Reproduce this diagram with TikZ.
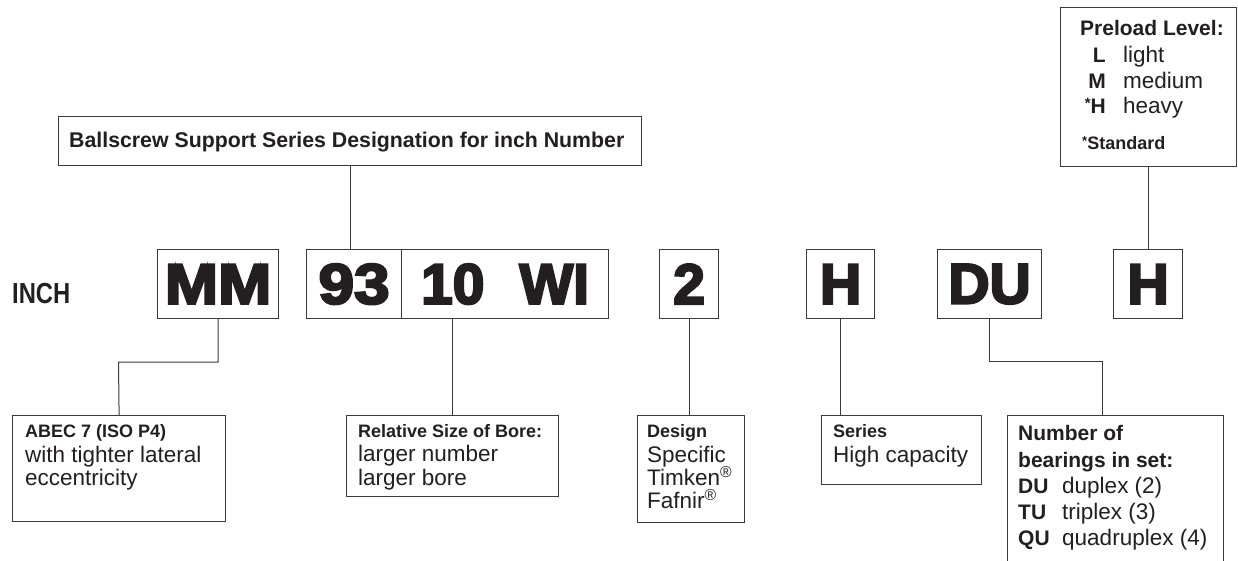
\documentclass[tikz,border=0pt]{standalone}
\usepackage{fontspec}
\setmainfont{Liberation Sans}
\newfontfamily\condfont[FakeStretch=0.82]{Liberation Sans}
\newfontfamily\codefont[FakeBold=4]{Liberation Sans Bold}
\definecolor{ink}{HTML}{231F20}
\definecolor{linegray}{HTML}{3A3A3A}
\newcommand{\fs}[1]{\fontsize{#1}{#1}\selectfont}
\newcommand{\smast}{\raisebox{5pt}{\fs{15}*}}
\newcommand{\tinyast}{\raisebox{4pt}{\fs{13}*}}
\begin{document}
\begin{tikzpicture}[x=1pt,y=-1pt,
  box/.style={draw=linegray, line width=1.2pt, rectangle, inner sep=0pt, anchor=north west},
  codebox/.style={box, font=\codefont\fs{57}, text=ink},
  conn/.style={draw=linegray, line width=1pt},
  txt/.style={anchor=base west, inner sep=0pt, text=ink},
  hd/.style={txt, font=\bfseries\fs{18}},
  hdl/.style={txt, font=\bfseries\fs{21}},
  bd/.style={txt, font=\fs{22.5}},
]
\useasboundingbox (0,0) rectangle (1238,560);
\clip (0,0) rectangle (1238,560);
\fill[white] (0,0) rectangle (1238,560);

% top box
\node[box, minimum width=583pt, minimum height=49pt] (top) at (58,116) {};
\node[txt, font=\bfseries\fs{21.3}] (toptxt) at (69,147) {Ballscrew Support Series Designation for inch Number};

% preload box
\node[box, minimum width=176pt, minimum height=159pt] (pre) at (1060,7) {};
\node[hdl] (pre1) at (1080,35) {Preload Level:};
\node[hdl, anchor=base east] (preL) at (1106,62) {L};
\node[bd] (preLt) at (1123,62) {light};
\node[hdl, anchor=base east] (preM) at (1106,88) {M};
\node[bd] (preMt) at (1123,88) {medium};
\node[hdl, anchor=base east] (preH) at (1106,113) {\smast H};
\node[bd] (preHt) at (1123,113) {heavy};
\node[hd] (preS) at (1082,149) {\tinyast Standard};

% INCH
\node[txt, font=\condfont\bfseries\fs{29}] (inch) at (12,303) {INCH};

% code boxes
\node[codebox, minimum width=121pt, minimum height=69pt] (mm) at (157,249) {\scalebox{1.12}[1]{MM}};
\node[codebox, minimum width=95pt, minimum height=69pt] (c93) at (306,249) {\scalebox{1.12}[1]{93}};
\node[codebox, minimum width=207pt, minimum height=69pt] (c10) at (401,249) {10\hspace{35pt}WI};
\node[codebox, minimum width=59pt, minimum height=69pt] (c2) at (659,249) {2};
\node[codebox, minimum width=68pt, minimum height=69pt] (ch) at (806,249) {H};
\node[codebox, minimum width=104pt, minimum height=69pt] (cdu) at (937,249) {DU};
\node[codebox, minimum width=69pt, minimum height=69pt] (ch2) at (1113,249) {H};

% bottom boxes
\node[box, minimum width=213pt, minimum height=106pt] (abec) at (12,415) {};
\node[hd] (abec1) at (25,437) {ABEC 7 (ISO P4)};
\node[bd] (abec2) at (25,462) {with tighter lateral};
\node[bd] (abec3) at (25,485) {eccentricity};

\node[box, minimum width=212pt, minimum height=81pt] (rel) at (346,415) {};
\node[hd] (rel1) at (358,437) {Relative Size of Bore:};
\node[bd] (rel2) at (358,461) {larger number};
\node[bd] (rel3) at (358,485) {larger bore};

\node[box, minimum width=107pt, minimum height=107pt] (des) at (637,415) {};
\node[hd] (des1) at (647,437) {Design};
\node[bd] (des2) at (647,462) {Specific};
\node[bd] (des3) at (647,485) {Timken\textsuperscript{®}};
\node[bd] (des4) at (647,508) {Fafnir\textsuperscript{®}};

\node[box, minimum width=160pt, minimum height=69pt] (ser) at (821,415) {};
\node[hd] (ser1) at (833,437) {Series};
\node[bd] (ser2) at (833,462) {High capacity};

\node[box, minimum width=216pt, minimum height=160pt] (num) at (1007,415) {};
\node[hdl] (num1) at (1018,440) {Number of};
\node[hdl] (num2) at (1018,467) {bearings in set:};
\node[hdl] (numDU) at (1018,493) {DU};
\node[bd] (numDUt) at (1062,493) {duplex (2)};
\node[hdl] (numTU) at (1018,519) {TU};
\node[bd] (numTUt) at (1062,519) {triplex (3)};
\node[hdl] (numQU) at (1018,545) {QU};
\node[bd] (numQUt) at (1062,545) {quadruplex (4)};

% connectors
\draw[conn] (top.south) -- (top.south |- c93.north);
\draw[conn] (pre.south) -- (pre.south |- ch2.north);
\coordinate (mmk) at (118.5,362);
\draw[conn] (mm.south) |- (mmk) -- (abec.north);
\draw[conn] (c10.south -| rel.north) -- (rel.north);
\draw[conn] (c2.south) -- (c2.south |- des.north);
\draw[conn] (ch.south) -- (ch.south |- ser.north);
\coordinate (duk) at (1102,361);
\draw[conn] (cdu.south) |- (duk) -- (duk |- num.north);
\end{tikzpicture}
\end{document}
